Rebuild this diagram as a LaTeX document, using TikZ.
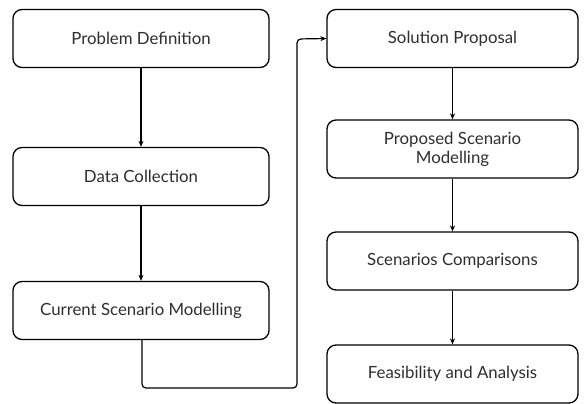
\documentclass[tikz,border=0pt]{standalone}
\usepackage{fontspec}
\setmainfont{Lato}
\usetikzlibrary{arrows.meta}
\begin{document}
\begin{tikzpicture}[x=1pt,y=-1pt,
  stepbox/.style={draw=black, line width=1.3pt, rounded corners=9pt, align=center,
    font=\fontsize{16.8}{19}\selectfont, text=black!82, inner sep=0pt},
  lbox/.style={stepbox, minimum width=256pt, minimum height=58pt},
  rbox/.style={stepbox, minimum width=251pt, minimum height=58pt},
  conn/.style={line width=1.2pt, -{Stealth[length=6pt,width=5pt]}}]
\useasboundingbox (0,0) rectangle (587,404);
\node[lbox] (pd) at (141,38.5) {Problem Definition};
\node[lbox] (dc) at (141,176.5) {Data Collection};
\node[lbox] (cs) at (141,310.5) {Current Scenario Modelling};
\node[rbox] (sp) at (452.5,38.5) {Solution Proposal};
\node[rbox] (ps) at (452.5,149) {Proposed Scenario\\Modelling};
\node[rbox] (sc) at (452.5,261) {Scenarios Comparisons};
\node[rbox] (fa) at (452.5,374) {Feasibility and Analysis};
\coordinate (c1) at (142,388);
\coordinate (c2) at (297,388);
\coordinate (c3) at (297,39);
\draw[conn] (pd) -- (dc);
\draw[conn] (dc) -- (cs);
\draw[conn] (sp) -- (ps);
\draw[conn] (ps) -- (sc);
\draw[conn] (sc) -- (fa);
\draw[conn, rounded corners=4pt] (cs.south -| c1) -- (c1) -- (c2) -- (c3) -- (sp.west);
\end{tikzpicture}
\end{document}
